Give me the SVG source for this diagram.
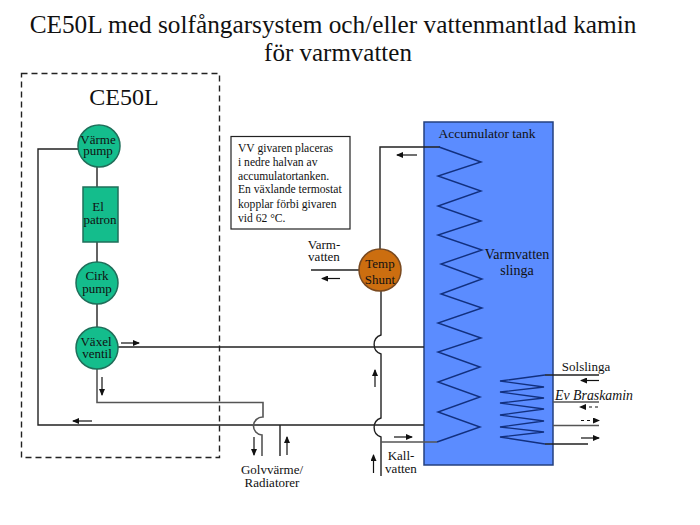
<svg xmlns="http://www.w3.org/2000/svg" width="700" height="525" viewBox="0 0 700 525">
<style>
text{font-family:"Liberation Serif","Times New Roman",serif;fill:#111;text-anchor:middle}
.t{font-size:13px}
.c{fill:#14bd8c;stroke:#1f6f5a;stroke-width:1.5}
.l{fill:none;stroke:#222;stroke-width:1.4}
.g{fill:none;stroke:#555;stroke-width:1.6}
.z{fill:none;stroke:#12307f;stroke-width:1.4}
.a{fill:none;stroke:#111;stroke-width:1.2;marker-end:url(#ah)}
.d{stroke-dasharray:3 3}
.note{font-size:11.6px;text-anchor:start}
</style>
<defs><marker id="ah" markerWidth="7" markerHeight="6" refX="6" refY="3" orient="auto" markerUnits="userSpaceOnUse"><path d="M0 0L7 3L0 6Z" fill="#111"/></marker></defs>
<rect width="700" height="525" fill="#fff"/>
<g id="title"><text x="333" y="33" font-size="25.300">CE50L med solfångarsystem och/eller vattenmantlad kamin</text><text x="338" y="61" font-size="25">för varmvatten</text></g>
<g id="ce50l-box"><rect x="21.500" y="73.500" width="198" height="384" fill="none" stroke="#222" stroke-width="1.4" stroke-dasharray="6 4"/><text x="124" y="105" font-size="24">CE50L</text></g>
<g id="tank"><rect x="424" y="122" width="129" height="343" fill="#5b8cff" stroke="#24407f" stroke-width="1.500"/><text x="487" y="138" font-size="13.500">Accumulator tank</text><text x="517" y="259" font-size="14">Varmvatten</text><text x="517" y="275" font-size="14">slinga</text></g>
<g id="connectors">
<path class="l" d="M78 149H38V425H424M97 167V187M97 242V262M97 304V327M118 347H424"/>
<path class="g" d="M97 369V402.500H263V417A9 9 0 0 0 262 435V456"/>
<path class="l" d="M280 425V456"/>
<path class="l" d="M440 147H380V249M381 291V335A10 10 0 0 0 381 354V418A10 10 0 0 0 381 437V476"/>
<path class="l" d="M311 270H359"/>
<path class="z" d="M439 147L481 162L438 176L481 191L438 206L481 221L438 235L482 250L441 264L482 279L441 294L482 308L438 323L481 338L438 352L480 367L438 382L480 397L438 412L480 427L437 442"/>
<path class="g" d="M437 442H381"/>
<path class="z" d="M545 375L500 381L544 387L500 392L544 398L500 403L544 409L500 415L544 421L500 427L544 432L500 437L545 444"/>
<path class="l" d="M545 375H599M545 444H588"/>
<path class="g" d="M553 402H599M553 425.500H599"/>
<path class="a" d="M121 343H139"/><path class="a" d="M102 377V395"/><path class="a" d="M92 421H73"/>
<path class="a" d="M254 437V455"/><path class="a" d="M287 455V437"/>
<path class="a" d="M417 155H397"/><path class="a" d="M340 278.500H322"/>
<path class="a" d="M375 387V370"/><path class="a" d="M373.500 473V455"/><path class="a" d="M394 437H412"/>
<path class="a" d="M599 380.500H581"/><path class="a d" d="M598 407H580"/><path class="a d" d="M581 420.500H599"/><path class="a" d="M581 438H599"/>
</g>
<g id="varme-pump"><circle class="c" cx="99" cy="146" r="21"/><text x="98" y="144" class="t">Värme</text><text x="98" y="155" class="t">pump</text></g>
<g id="el-patron"><rect x="83" y="187" width="35" height="55" fill="#14bd8c" stroke="#1f6f5a" stroke-width="1.500"/><text x="98" y="211" class="t">El</text><text x="100" y="224" class="t">patron</text></g>
<g id="cirk-pump"><circle class="c" cx="97" cy="283" r="21"/><text x="97" y="280" class="t">Cirk</text><text x="97" y="293" class="t">pump</text></g>
<g id="vaxel-ventil"><circle class="c" cx="97" cy="348" r="21"/><text x="96" y="346" class="t">Växel</text><text x="97" y="358" class="t">ventil</text></g>
<g id="temp-shunt"><circle cx="380" cy="270" r="21" fill="#cc6e10" stroke="#7a4a20" stroke-width="1.500"/><text x="380" y="268" class="t">Temp</text><text x="380" y="284" class="t">Shunt</text></g>
<g id="note"><rect x="231" y="136.500" width="119" height="92.500" fill="#fff" stroke="#222" stroke-width="1.200"/>
<text x="238" y="152" class="note">VV  givaren placeras</text><text x="238" y="166" class="note">i nedre halvan av</text><text x="238" y="180" class="note">accumulatortanken.</text><text x="238" y="193" class="note">En växlande termostat</text><text x="238" y="208" class="note">kopplar förbi givaren</text><text x="238" y="222" class="note">vid 62 °C.</text></g>
<g id="labels">
<text x="324" y="249" class="t">Varm-</text><text x="324" y="261" class="t">vatten</text>
<text x="272" y="474" class="t">Golvvärme/</text><text x="272" y="487" class="t">Radiatorer</text>
<text x="401" y="460" class="t">Kall-</text><text x="401" y="473" class="t">vatten</text>
<text x="586" y="371" class="t">Solslinga</text>
<text x="594" y="400" font-size="13.800" font-style="italic">Ev Braskamin</text>
</g>
</svg>
